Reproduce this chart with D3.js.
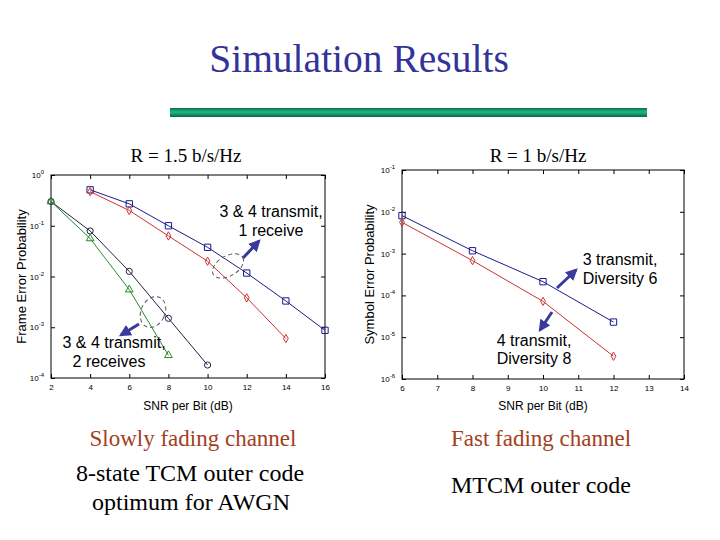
<!DOCTYPE html>
<html><head><meta charset="utf-8">
<script src="https://cdn.jsdelivr.net/npm/d3@7"></script>
<style>body{margin:0;background:#fff}</style>
</head><body>
<svg id="c" width="720" height="540"></svg>
<script>
// ---- data ----
const leftSNR = [2,4,6,8,10,12,14,16];
const leftBlueX = [4,6,8,10,12,14,16];
const leftBlue  = [0.51,0.27,0.10,0.0376,0.0117,0.0033,0.00087];
const leftRedX  = [4,6,8,10,12,14];
const leftRed   = [0.47,0.20,0.063,0.020,0.0038,0.0006];
const leftBlackX = [2,4,6,8,10];
const leftBlack  = [0.30,0.079,0.0126,0.0015,0.00018];
const leftGreenX = [2,4,6,8];
const leftGreen  = [0.30,0.056,0.0055,0.00028];
const leftYTicks = [0,-1,-2,-3,-4];

const rightSNR = [6,7,8,9,10,11,12,13,14];
const rightBlueX = [6,8,10,12];
const rightBlue  = [0.0081,0.00117,0.000213,2.3e-5];
const rightRedX  = [6,8,10,12];
const rightRed   = [0.0056,0.00068,7.2e-5,3.5e-6];
const rightYTicks = [-1,-2,-3,-4,-5,-6];

const svg = d3.select("#c");

// title
svg.append("text").attr("x",359).attr("y",72).attr("text-anchor","middle")
  .attr("font-family","Liberation Serif, Times New Roman, serif").attr("font-size",39.5)
  .attr("fill","#333399").text("Simulation Results");
// green bar with gradient
const defs = svg.append("defs");
const g = defs.append("linearGradient").attr("id","bar").attr("x1",0).attr("x2",0).attr("y1",0).attr("y2",1);
g.append("stop").attr("offset","0%").attr("stop-color","#0a6e50");
g.append("stop").attr("offset","45%").attr("stop-color","#1fb98a");
g.append("stop").attr("offset","100%").attr("stop-color","#07654a");
svg.append("rect").attr("x",170).attr("y",108).attr("width",477).attr("height",9).attr("fill","url(#bar)");

const serif = "Liberation Serif, Times New Roman, serif";
const sans = "Liberation Sans, Arial, sans-serif";
function t(x,y,s,size,fill,fam,anchor){
  return svg.append("text").attr("x",x).attr("y",y).attr("text-anchor",anchor||"middle")
    .attr("font-family",fam||serif).attr("font-size",size).attr("fill",fill||"#000").text(s);
}
t(186,162,"R = 1.5 b/s/Hz",19);
t(538,162,"R = 1 b/s/Hz",19);
t(193,446,"Slowly fading channel",23,"#a3401e");
t(190,481,"8-state TCM outer code",24);
t(191,510,"optimum for AWGN",24);
t(541,446,"Fast fading channel",23,"#a3401e");
t(541,493,"MTCM outer code",24);

function panel(cfg){
  const x = d3.scaleLinear().domain(cfg.xd).range(cfg.xr);
  const y = d3.scaleLog().domain(cfg.yd).range(cfg.yr);
  const G = svg.append("g");
  const tv = cfg.yt.map(e=>Math.pow(10,e));
  const fmtY = (d)=>"";
  const style = sel=>{ sel.select(".domain").remove(); sel.selectAll("line").attr("stroke","#000").attr("stroke-width",1);
     sel.selectAll("text").attr("font-family",sans).attr("font-size",8).attr("fill","#000"); };
  G.append("g").attr("transform",`translate(0,${cfg.yr[0]})`)
    .call(d3.axisBottom(x).tickValues(cfg.xt).tickSize(-4).tickPadding(6).tickFormat(d3.format("d"))).call(style);
  G.append("g").attr("transform",`translate(0,${cfg.yr[1]})`)
    .call(d3.axisTop(x).tickValues(cfg.xt).tickSize(-4).tickFormat("")).call(style);
  const ya = G.append("g").attr("transform",`translate(${cfg.xr[0]},0)`)
    .call(d3.axisLeft(y).tickValues(tv).tickSize(-4).tickPadding(7).tickFormat(fmtY)).call(style);
  ya.selectAll(".tick text").each(function(d){
    const e = Math.round(Math.log10(d));
    const s = d3.select(this); s.text(null);
    s.append("tspan").text("10");
    s.append("tspan").attr("dy",-4).attr("font-size",6).text(String(e));
  });
  G.append("g").attr("transform",`translate(${cfg.xr[1]},0)`)
    .call(d3.axisRight(y).tickValues(tv).tickSize(-4).tickFormat("")).call(style);
  G.append("rect").attr("x",cfg.xr[0]).attr("y",cfg.yr[1]).attr("width",cfg.xr[1]-cfg.xr[0])
    .attr("height",cfg.yr[0]-cfg.yr[1]).attr("fill","none").attr("stroke","#000").attr("stroke-width",1);
  // y label
  svg.append("text").attr("transform",`translate(${cfg.ylx},${(cfg.yr[0]+cfg.yr[1])/2}) rotate(-90)`)
    .attr("text-anchor","middle").attr("font-family",sans).attr("font-size",13).text(cfg.ylab);
  svg.append("text").attr("x",(cfg.xr[0]+cfg.xr[1])/2).attr("y",410).attr("text-anchor","middle")
    .attr("font-family",sans).attr("font-size",12).text("SNR per Bit (dB)");
  const line = d3.line().x(d=>x(d[0])).y(d=>y(d[1]));
  cfg.series.forEach(s=>{
    const pts = s.xs.map((v,i)=>[v,s.ys[i]]);
    G.append("path").datum(pts).attr("d",line).attr("fill","none").attr("stroke",s.color).attr("stroke-width",1);
    const sym = {square:d3.symbolSquare,diamond:d3.symbolDiamond,circle:d3.symbolCircle,triangle:d3.symbolTriangle}[s.marker];
    const size = {square:40,diamond:20,circle:30,triangle:26}[s.marker];
    G.selectAll(null).data(pts).join("path")
      .attr("transform",d=>`translate(${x(d[0])},${y(d[1])})`)
      .attr("d",d3.symbol(sym,size)).attr("fill","none").attr("stroke",s.color).attr("stroke-width",1);
  });
  return {x,y};
}

panel({xd:[2,16],xr:[51,325],yd:[1e-4,1],yr:[378,175],xt:leftSNR,yt:leftYTicks,ylx:26,
  ylab:"Frame Error Probability",
  series:[
    {xs:leftBlueX,ys:leftBlue,color:"#1a1a8c",marker:"square"},
    {xs:leftRedX,ys:leftRed,color:"#cc3333",marker:"diamond"},
    {xs:leftBlackX,ys:leftBlack,color:"#222244",marker:"circle"},
    {xs:leftGreenX,ys:leftGreen,color:"#2a8a2a",marker:"triangle"}
  ]});
panel({xd:[6,14],xr:[402,684],yd:[1e-6,1e-1],yr:[379,170],xt:rightSNR,yt:rightYTicks,ylx:374,
  ylab:"Symbol Error Probability",
  series:[
    {xs:rightBlueX,ys:rightBlue,color:"#1a1a8c",marker:"square"},
    {xs:rightRedX,ys:rightRed,color:"#cc3333",marker:"diamond"}
  ]});

// annotations
defs.append("marker").attr("id","ah").attr("viewBox","0 0 10 10").attr("refX",8).attr("refY",5)
  .attr("markerWidth",4).attr("markerHeight",4).attr("orient","auto")
  .append("path").attr("d","M0,0 L10,5 L0,10 z").attr("fill","#3a3a9a");
function arrow(x1,y1,x2,y2){
  svg.append("line").attr("x1",x1).attr("y1",y1).attr("x2",x2).attr("y2",y2)
    .attr("stroke","#3a3a9a").attr("stroke-width",3).attr("marker-end","url(#ah)");
}
function ell(cx,cy,rx,ry,rot){
  svg.append("ellipse").attr("cx",0).attr("cy",0).attr("rx",rx).attr("ry",ry)
    .attr("transform",`translate(${cx},${cy}) rotate(${rot})`)
    .attr("fill","none").attr("stroke","#555").attr("stroke-width",1).attr("stroke-dasharray","4,3");
}
ell(228,266,17,10,-30);
ell(153,312,12,16,25);
arrow(243,258,259,241);
arrow(139,324,121,335);
t(271,217,"3 & 4 transmit,",16,"#000",sans);
t(271,236,"1 receive",16,"#000",sans);
t(114,348,"3 & 4 transmit,",16,"#000",sans);
t(109,367,"2 receives",16,"#000",sans);
arrow(557,288,576,270);
arrow(552,312,540,330);
t(620,265,"3 transmit,",16,"#000",sans);
t(620,284,"Diversity 6",16,"#000",sans);
t(534,346,"4 transmit,",16,"#000",sans);
t(534,364,"Diversity 8",16,"#000",sans);
</script>
</body></html>
